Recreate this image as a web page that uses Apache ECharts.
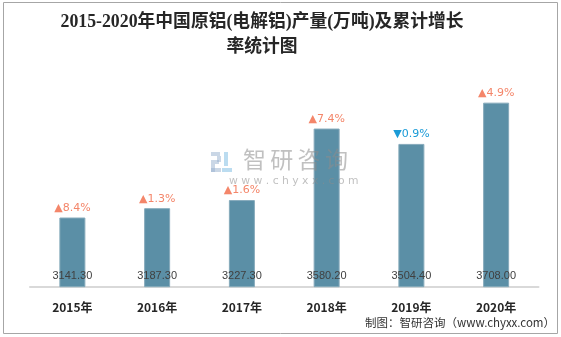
<!DOCTYPE html>
<html><head><meta charset="utf-8">
<script src="https://cdn.jsdelivr.net/npm/echarts@6/dist/echarts.min.js"></script>
<style>html,body{margin:0;padding:0;background:#fff}#c{width:561px;height:337px}</style>
</head><body><div id="c"></div>
<script>
var categories = ['2015年','2016年','2017年','2018年','2019年','2020年'];
var production = [3141.30, 3187.30, 3227.30, 3580.20, 3504.40, 3708.00];
var growth = [8.4, 1.3, 1.6, 7.4, -0.9, 4.9];
var titleText = '2015-2020年中国原铝(电解铝)产量(万吨)及累计增长\n率统计图';
var sourceText = '制图：智研咨询（www.chyxx.com）';
var watermarkChars = ['智','研','咨','询'];

var chart = echarts.init(document.getElementById('c'), null, {renderer:'canvas'});
var growthData = production.map(function(v,i){return {value:v, g:growth[i]};});
var wmGray = 'rgba(140,140,140,0.55)';
var graphics = [
  {type:'text', x:262, y:10, z:60, style:{text:titleText, textAlign:'center', fontFamily:'Liberation Serif, "Noto Sans CJK SC", serif', fontSize:17.8, fontWeight:'bold', fill:'#262626', lineHeight:25}},
  {type:'rect', shape:{x:3.5, y:2.5, width:554, height:331}, style:{fill:null, stroke:'#a6a6a6', lineWidth:1}, z:100},
  {type:'group', left:211, top:152, z:50, silent:true, children:[
    {type:'rect', shape:{x:0,y:0,width:9,height:4}, style:{fill:'rgba(150,175,205,0.5)'}},
    {type:'rect', shape:{x:6,y:4,width:4,height:6}, style:{fill:'rgba(150,175,205,0.5)'}},
    {type:'rect', shape:{x:0,y:8,width:8,height:4}, style:{fill:'rgba(150,175,205,0.5)'}},
    {type:'rect', shape:{x:0,y:12,width:4,height:8}, style:{fill:'rgba(150,175,205,0.5)'}},
    {type:'rect', shape:{x:0,y:16,width:10,height:4}, style:{fill:'rgba(150,175,205,0.5)'}},
    {type:'rect', shape:{x:13,y:0,width:4,height:14}, style:{fill:'rgba(120,185,225,0.5)'}},
    {type:'rect', shape:{x:11,y:16,width:10,height:4}, style:{fill:'rgba(120,185,225,0.5)'}}
  ]},
  {type:'text', left:229, top:176, z:50, silent:true, style:{text:'w w w . c h y x x . c o m', fontSize:10.8, fill:wmGray, fontFamily:'"DejaVu Sans", sans-serif'}},
  {type:'text', right:6, top:317, z:50, style:{text:sourceText, fontSize:11.5, fill:'#333', fontFamily:'"Noto Sans CJK SC", sans-serif'}}
];
watermarkChars.forEach(function(ch, i){
  graphics.push({type:'text', left:243 + i*27.3, top:148, z:50, silent:true, style:{text:ch, fontSize:23, fill:wmGray, fontFamily:'"Noto Sans CJK SC", sans-serif'}});
});
chart.setOption({
  animation:false,
  backgroundColor:'#fff',
  grid:{left:30, right:22.5, top:84, bottom:50.3},
  xAxis:{
    type:'category', data:categories,
    axisLine:{lineStyle:{color:'#d9d9d9', width:2}},
    axisTick:{show:false},
    axisLabel:{color:'#262626', fontSize:12, fontWeight:'bold', margin:15, fontFamily:'"Noto Sans CJK SC", sans-serif'}
  },
  yAxis:{type:'value', min:2800, max:3800, show:false, splitLine:{show:false}},
  series:[
    {
      type:'bar', data:production, barWidth:26,
      itemStyle:{color:'#5b8fa6', borderColor:'#86aabb', borderWidth:1},
      label:{show:true, position:'insideBottom', distance:6, color:'#404040', fontSize:11,
        fontFamily:'"Liberation Sans", sans-serif',
        formatter:function(p){return p.value.toFixed(2);}}
    },
    {
      type:'bar', data:growthData, barWidth:26, barGap:'-100%',
      itemStyle:{color:'rgba(0,0,0,0)'}, z:1,
      label:{show:true, position:'top', distance:4, fontSize:11,
        fontFamily:'"DejaVu Sans", sans-serif',
        formatter:function(p){var g=p.data.g; return g<0?('{dn|▼'+Math.abs(g).toFixed(1)+'%}'):('{up|▲'+g.toFixed(1)+'%}');},
        rich:{up:{color:'#f4866a', fontSize:11}, dn:{color:'#1a9bd7', fontSize:11}}
      }
    }
  ],
  graphic:graphics
});
</script></body></html>
